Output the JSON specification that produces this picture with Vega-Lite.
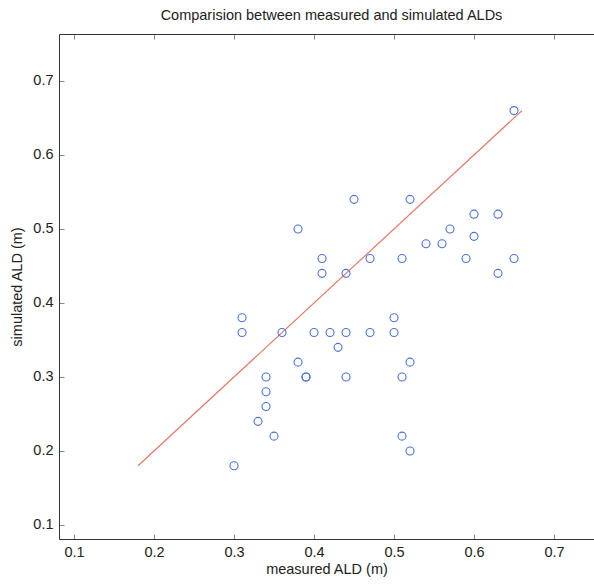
{
  "$schema": "https://vega.github.io/schema/vega-lite/v6.json",
  "width": 535,
  "height": 505,
  "autosize": "none",
  "padding": {"left": 59, "top": 34, "right": 0, "bottom": 49},
  "background": "white",
  "config": {
    "view": {"stroke": null},
    "font": "Liberation Sans",
    "axis": {"grid": false, "domainColor": "#333", "tickColor": "#888", "labelColor": "#222", "titleColor": "#222", "labelFont": "Liberation Sans", "titleFont": "Liberation Sans", "labelFontSize": 14.5, "titleFontSize": 14.5, "titleFontWeight": "normal", "tickSize": -5, "labelPadding": 11}
  },
  "title": {"text": "Comparision between measured and simulated ALDs", "fontSize": 14.5, "fontWeight": "normal", "font": "Liberation Sans", "color": "#222", "offset": 10, "dx": 5},
  "datasets": {
    "points": [
      {"measured": 0.45, "simulated": 0.54},
      {"measured": 0.38, "simulated": 0.50},
      {"measured": 0.41, "simulated": 0.46},
      {"measured": 0.41, "simulated": 0.44},
      {"measured": 0.44, "simulated": 0.44},
      {"measured": 0.47, "simulated": 0.46},
      {"measured": 0.51, "simulated": 0.46},
      {"measured": 0.31, "simulated": 0.38},
      {"measured": 0.50, "simulated": 0.38},
      {"measured": 0.52, "simulated": 0.54},
      {"measured": 0.60, "simulated": 0.52},
      {"measured": 0.63, "simulated": 0.52},
      {"measured": 0.57, "simulated": 0.50},
      {"measured": 0.54, "simulated": 0.48},
      {"measured": 0.56, "simulated": 0.48},
      {"measured": 0.60, "simulated": 0.49},
      {"measured": 0.59, "simulated": 0.46},
      {"measured": 0.65, "simulated": 0.46},
      {"measured": 0.63, "simulated": 0.44},
      {"measured": 0.65, "simulated": 0.66},
      {"measured": 0.31, "simulated": 0.36},
      {"measured": 0.36, "simulated": 0.36},
      {"measured": 0.40, "simulated": 0.36},
      {"measured": 0.42, "simulated": 0.36},
      {"measured": 0.44, "simulated": 0.36},
      {"measured": 0.47, "simulated": 0.36},
      {"measured": 0.50, "simulated": 0.36},
      {"measured": 0.43, "simulated": 0.34},
      {"measured": 0.38, "simulated": 0.32},
      {"measured": 0.34, "simulated": 0.30},
      {"measured": 0.39, "simulated": 0.30},
      {"measured": 0.39, "simulated": 0.30},
      {"measured": 0.44, "simulated": 0.30},
      {"measured": 0.51, "simulated": 0.30},
      {"measured": 0.34, "simulated": 0.28},
      {"measured": 0.34, "simulated": 0.26},
      {"measured": 0.33, "simulated": 0.24},
      {"measured": 0.35, "simulated": 0.22},
      {"measured": 0.51, "simulated": 0.22},
      {"measured": 0.30, "simulated": 0.18},
      {"measured": 0.52, "simulated": 0.32},
      {"measured": 0.52, "simulated": 0.20}
    ],
    "fit": [
      {"measured": 0.18, "simulated": 0.18},
      {"measured": 0.66, "simulated": 0.66}
    ]
  },
  "layer": [
    {
      "data": {"name": "fit"},
      "mark": {"type": "line", "color": "#e27868", "strokeWidth": 1.2},
      "encoding": {
        "x": {"field": "measured", "type": "quantitative", "scale": {"domain": [0.0812, 0.7500], "zero": false, "nice": false},
              "axis": {"title": "measured ALD (m)", "values": [0.1, 0.2, 0.3, 0.4, 0.5, 0.6, 0.7], "format": ".1f", "titlePadding": 4}},
        "y": {"field": "simulated", "type": "quantitative", "scale": {"domain": [0.081, 0.7635], "zero": false, "nice": false},
              "axis": {"title": "simulated ALD (m)", "values": [0.1, 0.2, 0.3, 0.4, 0.5, 0.6, 0.7], "format": ".1f", "titlePadding": 8}}
      }
    },
    {
      "data": {"name": "points"},
      "mark": {"type": "point", "shape": "circle", "filled": false, "color": "#4a72d8", "size": 64, "strokeWidth": 1.1, "opacity": 1},
      "encoding": {
        "x": {"field": "measured", "type": "quantitative",
              "axis": {"orient": "top", "title": null, "labels": false, "values": [0.1, 0.2, 0.3, 0.4, 0.5, 0.6, 0.7], "domain": true}},
        "y": {"field": "simulated", "type": "quantitative"}
      }
    }
  ],
  "resolve": {"axis": {"x": "independent"}}
}
